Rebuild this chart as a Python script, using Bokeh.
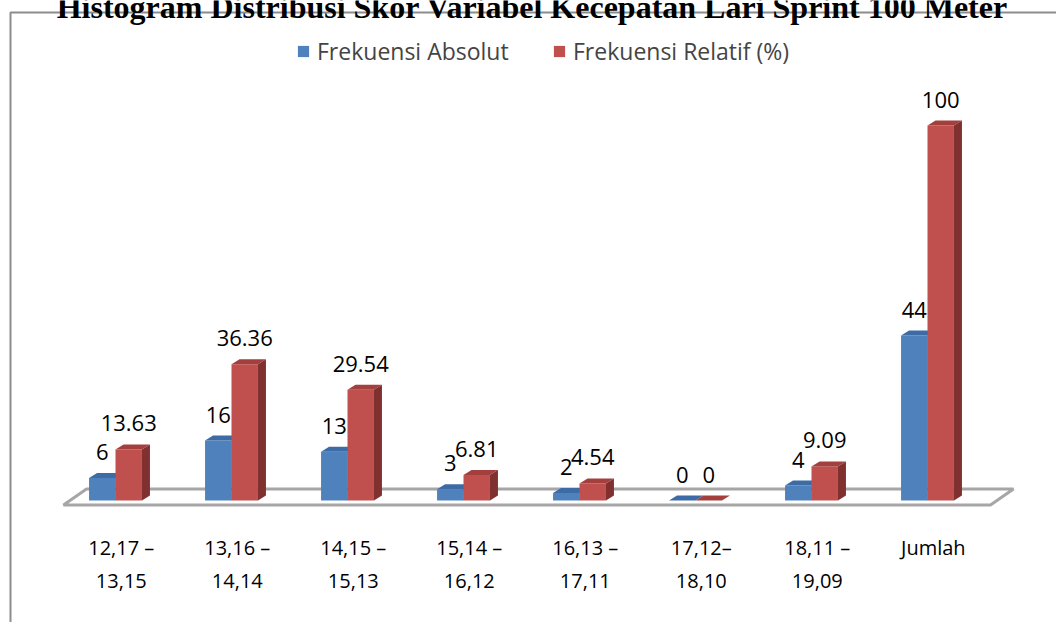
from bokeh.plotting import figure
from bokeh.models import Range1d, Legend, LegendItem
from bokeh.embed import file_html
from bokeh.resources import INLINE
from bokeh.core.properties import value

# ---------------- data ----------------
categories = ["12,17 –\n13,15", "13,16 –\n14,14", "14,15 –\n15,13", "15,14 –\n16,12",
              "16,13 –\n17,11", "17,12–\n18,10", "18,11 –\n19,09", "Jumlah"]
absolut = [6, 16, 13, 3, 2, 0, 4, 44]
relatif = [13.63, 36.36, 29.54, 6.81, 4.54, 0, 9.09, 100]
absolut_labels = ["6", "16", "13", "3", "2", "0", "4", "44"]
relatif_labels = ["13.63", "36.36", "29.54", "6.81", "4.54", "0", "9.09", "100"]
series_names = ["Frekuensi Absolut", "Frekuensi Relatif (%)"]
title_text = "Histogram Distribusi Skor Variabel Kecepatan Lari Sprint 100 Meter"

# ---------------- layout (pixels) ----------------
W, H = 1056, 622
PAD = 0             # Bokeh's page template has no body margin
CAT0_PX = 115.0     # page x of first category centre
CAT_STEP = 116.0    # px per category
BASE_PY = 500.0     # page y of value 0
PX_PER_UNIT = 3.75

x0 = (PAD - CAT0_PX) / CAT_STEP
x1 = x0 + W / CAT_STEP
y1 = (BASE_PY - PAD) / PX_PER_UNIT
y0 = y1 - H / PX_PER_UNIT


def X(px):
    return (px - CAT0_PX) / CAT_STEP


def Y(py):
    return (BASE_PY - py) / PX_PER_UNIT


BAR_W = 0.228
DX = 8 / CAT_STEP
DY = 5 / PX_PER_UNIT

FONT = "Open Sans"

p = figure(width=W, height=H, x_range=Range1d(x0, x1), y_range=Range1d(y0, y1),
           output_backend="svg", toolbar_location=None, min_border=0)
p.xaxis.visible = False
p.yaxis.visible = False
p.grid.visible = False
p.outline_line_color = None
p.background_fill_color = "white"
p.border_fill_color = "white"

# frame border (gray) of the original chart area
p.line([X(10), X(10), X(1070)], [Y(640), Y(12), Y(12)], line_color="#8C8C8C", line_width=2)

# title (cut at the top like the reference)
p.text(x=[X(532)], y=[Y(6)], text=[title_text], text_align="center", text_baseline="alphabetic",
       text_font=value("Liberation Serif"), text_font_style="bold", text_font_size="32px",
       text_color="black")

# 3D floor
p.patch([X(63), X(990), X(1013), X(86)], [Y(504.5), Y(504.5), Y(488.5), Y(488.5)],
        fill_color="white", line_color="#A6A6A6", line_width=3)

idx = list(range(len(categories)))


def bars(vals, lefts, front, topc, side):
    rights = [l + BAR_W for l in lefts]
    r = p.quad(left=lefts, right=rights, bottom=[0] * len(vals), top=vals,
               fill_color=front, line_color=None)
    tx = [[l, rr, rr + DX, l + DX] for l, rr in zip(lefts, rights)]
    ty = [[v, v, v + DY, v + DY] for v in vals]
    p.patches(tx, ty, fill_color=topc, line_color=None)
    sx = [[rr, rr + DX, rr + DX, rr] for rr in rights]
    sy = [[0, DY, v + DY, v] for v in vals]
    p.patches(sx, sy, fill_color=side, line_color=None)
    return r


blue_r = bars(absolut, [i - BAR_W for i in idx], "#4F81BD", "#3D6BA6", "#35598A")
red_r = bars(relatif, [i for i in idx], "#C0504D", "#A3403D", "#80302E")

# value labels
p.text(x=[i - BAR_W / 2 for i in idx], y=absolut, text=absolut_labels, y_offset=-26,
       text_align="center", text_baseline="middle", text_font=value(FONT),
       text_font_size="22px", text_color="black")
p.text(x=[i + BAR_W / 2 for i in idx], y=relatif, text=relatif_labels, y_offset=-26,
       text_align="center", text_baseline="middle", text_font=value(FONT),
       text_font_size="22px", text_color="black")

# category labels
p.text(x=[i + 0.05 for i in idx], y=[0] * len(idx), text=categories, y_offset=33,
       text_align="center", text_baseline="top", text_font=value(FONT),
       text_font_size="20px", text_line_height=1.25, text_color="black")

# legends (location = px from the bottom-left of the frame)
for rend, name, lx in [(blue_r, series_names[0], 296), (red_r, series_names[1], 552)]:
    lg = Legend(items=[LegendItem(label=name, renderers=[rend])], location=(lx, H - 67),
                orientation="horizontal", padding=0, margin=0, spacing=0,
                border_line_color=None, background_fill_alpha=0,
                glyph_width=14, glyph_height=14, label_standoff=7,
                label_text_font=FONT, label_text_font_size="23px")
    p.add_layout(lg)

open("out.html", "w").write(file_html(p, INLINE))
